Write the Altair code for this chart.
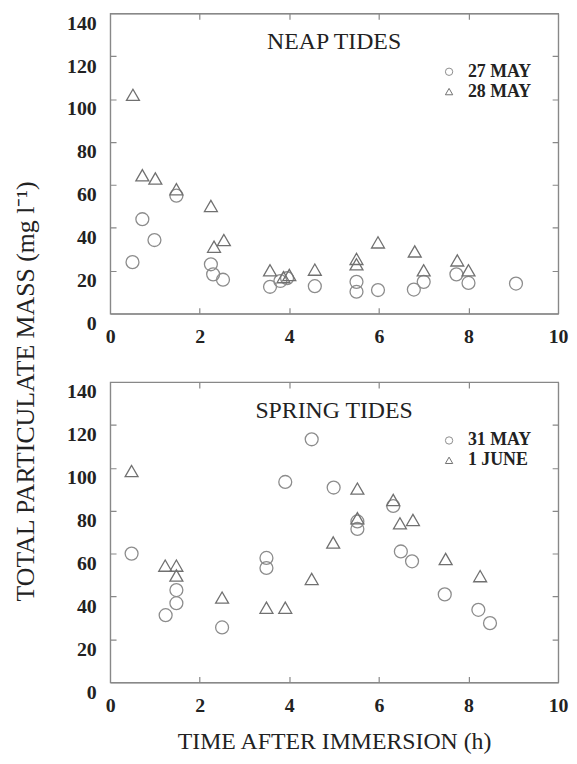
import altair as alt
import pandas as pd

# ---- data ----
neap_dates = ["27 MAY", "28 MAY"]
neap_27may_t = [0.5, 0.72, 0.99, 1.48, 2.25, 2.3, 2.52, 3.57, 3.8, 3.95, 4.57, 5.5, 5.5, 5.98, 6.78, 7.0, 7.73, 8.0, 9.06]
neap_27may_m = [24, 44, 34.3, 55, 23, 18.3, 15.8, 12.5, 15.2, 16.5, 12.8, 14.8, 10.2, 11, 11.2, 14.8, 18.3, 14.3, 14]
neap_28may_t = [0.51, 0.72, 1.01, 1.48, 2.25, 2.32, 2.54, 3.57, 3.87, 4.0, 4.57, 5.5, 5.5, 5.98, 6.8, 7.0, 7.75, 8.0]
neap_28may_m = [102, 64.5, 63, 58, 50.2, 31.2, 34.3, 20.2, 17, 18, 20.5, 25.5, 23, 33.2, 29, 20.2, 24.8, 20.2]

spring_dates = ["31 MAY", "1 JUNE"]
spring_31may_t = [0.48, 1.24, 1.48, 1.48, 2.5, 3.49, 3.49, 3.91, 4.5, 4.99, 5.52, 5.52, 6.32, 6.49, 6.74, 7.47, 8.22, 8.48]
spring_31may_m = [60, 31.3, 36.9, 43, 25.6, 53.3, 58, 93.4, 113.3, 90.8, 75, 71.5, 82.2, 61, 56.4, 41, 33.8, 27.6]
spring_1june_t = [0.48, 1.23, 1.48, 1.48, 2.5, 3.49, 3.91, 4.5, 4.98, 5.52, 5.52, 6.32, 6.47, 6.76, 7.49, 8.26]
spring_1june_m = [98.5, 54.4, 54.4, 49.8, 39.5, 34.8, 34.8, 48.2, 65.2, 90.3, 76.5, 85, 74.1, 75.7, 57.5, 49.5]

x_ticks = [0, 2, 4, 6, 8, 10]
y_ticks = [0, 20, 40, 60, 80, 100, 120, 140]

W, H = 452, 303
SERIF = "Liberation Serif"
GRAY = "#888888"
TICK = 6

xscale = alt.Scale(domain=[0, 10], nice=False, zero=False)
yscale = alt.Scale(domain=[0, 140], nice=False)

# grid lines: solid at the plot edges (frame), short inward tick marks elsewhere
x_edge = "datum.value == 0 || datum.value == 10"
y_edge = "datum.value == 0 || datum.value == 140"


def panel(title, dates, t1, m1, t2, m2, show_xtitle):
    df = pd.concat([
        pd.DataFrame({"t": t1, "m": m1, "date": dates[0]}),
        pd.DataFrame({"t": t2, "m": m2, "date": dates[1]}),
    ])
    xaxis = alt.Axis(
        values=x_ticks, format="d", ticks=False, domain=False,
        grid=True, gridColor=GRAY, gridWidth=1.2, gridOpacity=1,
        gridDash={"condition": {"test": x_edge, "value": []}, "value": [TICK, H - 2 * TICK]},
        labelFont=SERIF, labelFontSize=20, labelFontWeight="bold", labelColor="#222",
        labelPadding=13, labelAngle=0, labelFlush=False, labelBound=False,
        title="TIME AFTER IMMERSION (h)" if show_xtitle else "",
        titleFont=SERIF, titleFontSize=24, titleFontWeight="normal", titleColor="#222",
        titlePadding=15,
    )
    yaxis = alt.Axis(
        values=y_ticks, format="d", ticks=False, domain=False,
        grid=True, gridColor=GRAY, gridWidth=1.2, gridOpacity=1,
        gridDash={"condition": {"test": y_edge, "value": []}, "value": [TICK, W - 2 * TICK]},
        labelFont=SERIF, labelFontSize=20, labelFontWeight="bold", labelColor="#222",
        labelPadding=14, labelBaseline="top", labelFlush=False, labelBound=False, title="",
    )
    legend = alt.Legend(title=None, orient="none", legendX=333, legendY=50,
                        labelFont=SERIF, labelFontSize=18, labelFontWeight="bold",
                        labelColor="#222", symbolSize=55, symbolStrokeWidth=1,
                        rowPadding=2, labelOffset=10)
    pts = alt.Chart(df).mark_point(filled=False, strokeWidth=1.3, opacity=1).encode(
        x=alt.X("t:Q", scale=xscale, axis=xaxis),
        y=alt.Y("m:Q", scale=yscale, axis=yaxis),
        shape=alt.Shape("date:N", scale=alt.Scale(domain=dates, range=["circle", "triangle-up"]),
                        sort=dates, legend=legend),
        color=alt.Color("date:N", scale=alt.Scale(domain=dates, range=["#8c8c8c", "#707070"]),
                        sort=dates, legend=legend),
        size=alt.value(170),
    )
    ttl = alt.Chart(pd.DataFrame({"label": [title]})).mark_text(
        font=SERIF, fontSize=24, color="#222", align="center", baseline="middle"
    ).encode(text="label:N", x=alt.value(W / 2), y=alt.value(29))
    return alt.layer(pts, ttl).properties(width=W, height=H)


top = panel("NEAP TIDES", neap_dates, neap_27may_t, neap_27may_m, neap_28may_t, neap_28may_m, False)
bottom = panel("SPRING TIDES", spring_dates, spring_31may_t, spring_31may_m, spring_1june_t, spring_1june_m, True)

chart = alt.vconcat(top, bottom, spacing=34).resolve_scale(
    shape="independent", color="independent"
).properties(
    background="white",
    padding={"left": 5, "top": 1, "right": 0, "bottom": 0},
    title=alt.TitleParams("TOTAL PARTICULATE MASS (mg l⁻¹)", orient="left", anchor="middle",
                          font=SERIF, fontSize=26, fontWeight="normal", color="#222",
                          offset=27, dx=-8)
).configure_view(stroke=GRAY, strokeWidth=1.2)

chart.save("out.html", embed_options={"renderer": "svg", "actions": False})
